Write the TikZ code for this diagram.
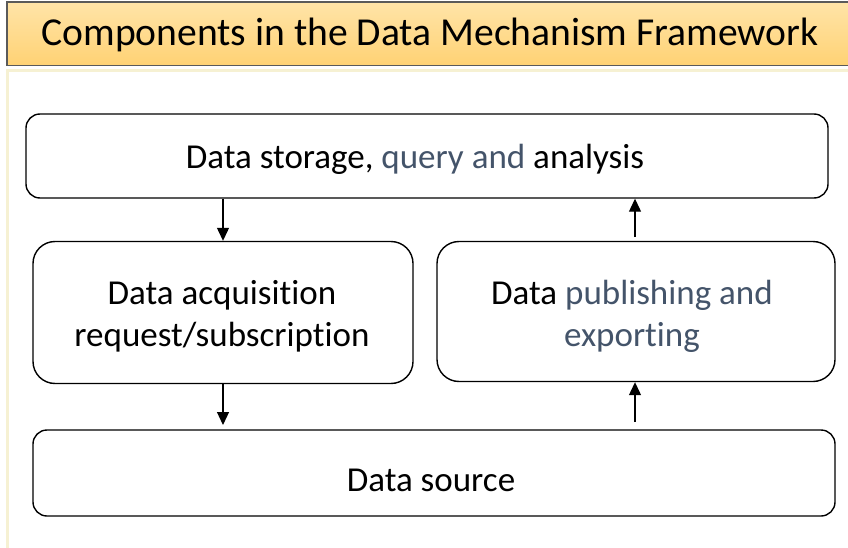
\documentclass[tikz,border=0pt]{standalone}
\usepackage{fontspec}
\setmainfont[Ligatures=NoCommon]{Carlito}
\usetikzlibrary{arrows.meta}
\definecolor{headtop}{HTML}{FFE4A8}
\definecolor{headbot}{HTML}{FFD274}
\definecolor{headline}{HTML}{5A5A5A}
\definecolor{panelline}{HTML}{F6F1D3}
\definecolor{slate}{HTML}{44546A}
\tikzset{
  blockbox/.style={draw=black, line width=1.4pt, fill=white, inner sep=0pt},
  blocktext/.style={inner sep=0pt, align=center, font=\fontsize{35}{42}\selectfont},
  flowarrow/.style={line width=1.2pt, -{Triangle[width=12pt,length=13pt]}},
}
\begin{document}
\begin{tikzpicture}[x=1pt,y=-1pt]
\useasboundingbox (0,0) rectangle (848,548);
\fill[white] (0,0) rectangle (848,548);
% panel behind the blocks
\draw[panelline, line width=3pt] (7.5,70.5) rectangle (870,570);
% title bar
\shade[top color=headtop, bottom color=headbot, draw=headline, line width=1.2pt]
  (7,2) rectangle (860,65.5);
\node[font=\fontsize{39.6}{45}\selectfont, anchor=center] (title) at (430,35)
  {Components in the Data Mechanism Framework};
% blocks
\node[blockbox, rounded corners=14pt, minimum width=802pt, minimum height=84pt]
  (store) at (427,156) {};
\node[blockbox, rounded corners=22pt, minimum width=380pt, minimum height=142pt]
  (acq) at (223,312.5) {};
\node[blockbox, rounded corners=22pt, minimum width=398pt, minimum height=140pt]
  (pub) at (636,311.5) {};
\node[blockbox, rounded corners=14pt, minimum width=802pt, minimum height=86pt]
  (src) at (434,473) {};
% block labels
\node[blocktext] (storeText) at (415,159) {Data storage, \textcolor{slate}{query and} analysis};
\node[blocktext] (acqText) at (222,316) {Data acquisition\\request/subscription};
\node[blocktext] (pubText) at (632,316) {Data \textcolor{slate}{publishing and}\\\textcolor{slate}{exporting}};
\node[blocktext] (srcText) at (431,480) {Data source};
% connectors
\coordinate (upA) at (635,237);
\coordinate (upB) at (635,422);
\coordinate (downB) at (223,425);
\draw[flowarrow] (store.south -| acq.north) -- (acq.north);
\draw[flowarrow] (acq.south) -- (downB);
\draw[flowarrow] (upA) -- (upA |- store.south);
\draw[flowarrow] (upB) -- (upB |- pub.south);
\end{tikzpicture}
\end{document}
